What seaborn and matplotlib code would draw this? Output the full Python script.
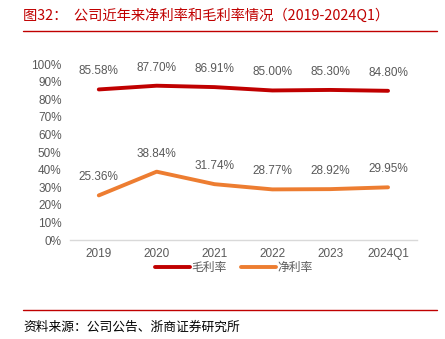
import matplotlib
matplotlib.use("Agg")
import matplotlib.pyplot as plt
import seaborn as sns
import pandas as pd
from matplotlib.lines import Line2D
from matplotlib import font_manager

years = ["2019", "2020", "2021", "2022", "2023", "2024Q1"]
gross_margin = [85.58, 87.70, 86.91, 85.00, 85.30, 84.80]
net_margin = [25.36, 38.84, 31.74, 28.77, 28.92, 29.95]
series_names = ["毛利率", "净利率"]
colors = ["#C00000", "#ED7D31"]

sns.set_theme(style="white")
plt.rcParams['font.family'] = ['Noto Sans CJK SC', 'DejaVu Sans']

available = {f.name for f in font_manager.fontManager.ttflist}
num_font = "Liberation Sans Narrow" if "Liberation Sans Narrow" in available else "Liberation Sans"

df = pd.DataFrame({
    "year": years * 2,
    "x": list(range(len(years))) * 2,
    "value": gross_margin + net_margin,
    "series": [series_names[0]] * len(years) + [series_names[1]] * len(years),
})

fig = plt.figure(figsize=(4.45, 3.39), dpi=100)
ax = fig.add_axes([0.157, 0.292, 0.78, 0.519])

sns.lineplot(data=df, x="x", y="value", hue="series", palette=colors,
             linewidth=2.8, ax=ax, legend=False)

ax.set_xlim(-0.5, len(years) - 0.5)
ax.set_ylim(0, 100)
ax.set_yticks(range(0, 101, 10))
ax.set_yticklabels([f"{v}%" for v in range(0, 101, 10)])
ax.set_xticks(range(len(years)))
ax.set_xticklabels(years)
ax.set_xlabel("")
ax.set_ylabel("")
ax.tick_params(axis="both", length=0, labelsize=8.5, labelcolor="#595959", pad=6)
for lab in ax.get_xticklabels() + ax.get_yticklabels():
    lab.set_family(num_font)
for s in ["top", "right", "left"]:
    ax.spines[s].set_visible(False)
ax.spines["bottom"].set_color("#D9D9D9")
ax.spines["bottom"].set_linewidth(1)

for vals in (gross_margin, net_margin):
    for i, v in enumerate(vals):
        ax.annotate(f"{v:.2f}%", (i, v), xytext=(0, 13), textcoords="offset points",
                    ha="center", va="center", fontsize=8.5, color="#595959",
                    family=num_font)

handles = [Line2D([0], [0], color=c, lw=2.8) for c in colors]
leg = fig.legend(handles, series_names, loc="center", bbox_to_anchor=(0.525, 0.21),
                 ncol=2, frameon=False, fontsize=8.5, handlelength=3.0,
                 handletextpad=0.1, columnspacing=1.2)
for t in leg.get_texts():
    t.set_color("#595959")

fig.text(0.052, 0.953, "图32：  公司近年来净利率和毛利率情况（2019-2024Q1）",
         fontsize=10.3, color="#C00000", ha="left", va="center")
fig.add_artist(Line2D([0.052, 0.982], [0.908, 0.908], color="#C00000", lw=1,
                      transform=fig.transFigure))
fig.add_artist(Line2D([0.052, 0.982], [0.085, 0.085], color="#C00000", lw=1,
                      transform=fig.transFigure))
fig.text(0.052, 0.036, "资料来源：公司公告、浙商证券研究所", fontsize=9.2,
         color="#000000", ha="left", va="center")

fig.savefig("out.png", dpi=100)
